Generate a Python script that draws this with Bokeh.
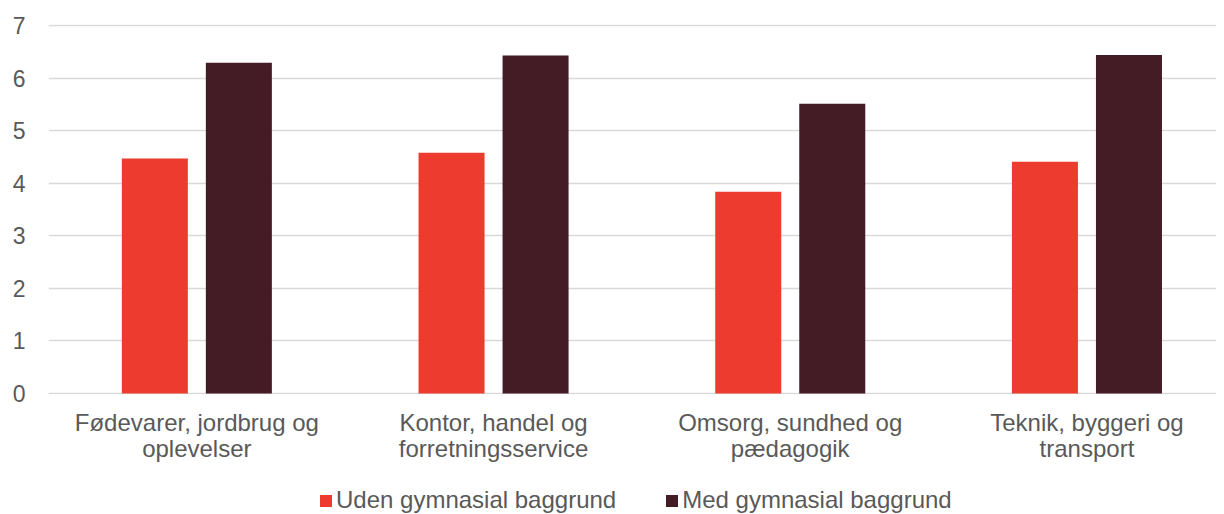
from bokeh.plotting import figure
from bokeh.layouts import column
from bokeh.models import Range1d, FixedTicker, Legend, LegendItem, ColumnDataSource
from bokeh.embed import file_html
from bokeh.resources import INLINE

categories = ["Fødevarer, jordbrug og\noplevelser",
              "Kontor, handel og\nforretningsservice",
              "Omsorg, sundhed og\npædagogik",
              "Teknik, byggeri og\ntransport"]
uden = [4.47, 4.58, 3.84, 4.41]
med = [6.29, 6.43, 5.51, 6.44]
series_names = ["Uden gymnasial baggrund", "Med gymnasial baggrund"]
y_ticks = [0, 1, 2, 3, 4, 5, 6, 7]

RED = "#EE3B2F"
DARK = "#431C26"
TXT = "#595959"
FONT = "Liberation Sans"
W = 1216
LEFT = 48

xs = list(range(len(categories)))
bar_w = 0.2225
off = 0.1416

p = figure(width=W, height=470, output_backend="svg", toolbar_location=None,
           x_range=Range1d(-0.5, -0.5 + (W - LEFT) / 296.7), y_range=Range1d(-0.02, 7.02),
           min_border_left=LEFT, min_border_right=0, min_border_top=24,
           min_border_bottom=76)
p.outline_line_color = None
p.border_fill_color = "white"

src = ColumnDataSource(dict(x1=[x - off for x in xs], x2=[x + off for x in xs],
                            uden=uden, med=med))
p.vbar(x="x1", top="uden", width=bar_w, source=src, fill_color=RED, line_color=None)
p.vbar(x="x2", top="med", width=bar_w, source=src, fill_color=DARK, line_color=None)

p.xgrid.visible = False
p.ygrid.grid_line_color = "#d9d9d9"
p.ygrid.grid_line_width = 1.5
p.ygrid.ticker = FixedTicker(ticks=y_ticks)

p.yaxis.ticker = FixedTicker(ticks=y_ticks)
p.yaxis.axis_line_color = None
p.yaxis.major_tick_line_color = None
p.yaxis.minor_tick_line_color = None
p.yaxis.major_label_standoff = 17
p.yaxis.major_label_text_font_size = "23px"
p.yaxis.major_label_text_color = TXT
p.yaxis.major_label_text_font = FONT

p.xaxis.ticker = FixedTicker(ticks=xs)
p.xaxis.major_label_overrides = {x: c for x, c in zip(xs, categories)}
p.xaxis.axis_line_color = None
p.xaxis.major_tick_line_color = None
p.xaxis.minor_tick_line_color = None
p.xaxis.major_label_standoff = 8
p.xaxis.major_label_text_font_size = "24px"
p.xaxis.major_label_text_line_height = 0.97
p.xaxis.major_label_text_color = TXT
p.xaxis.major_label_text_font = FONT

# legend strip below the chart (its renderers use the same data, kept out of view)
lg = figure(width=W, height=44, output_backend="svg", toolbar_location=None,
            x_axis_type=None, y_axis_type=None, min_border=0,
            x_range=Range1d(100, 101), y_range=Range1d(100, 101))
lg.outline_line_color = None
lg.xgrid.visible = False
lg.ygrid.visible = False
l1 = lg.vbar(x="x1", top="uden", width=bar_w, source=src, fill_color=RED, line_color=None)
l2 = lg.vbar(x="x2", top="med", width=bar_w, source=src, fill_color=DARK, line_color=None)
legend = Legend(items=[LegendItem(label=series_names[0], renderers=[l1]),
                       LegendItem(label=series_names[1], renderers=[l2])],
                orientation="horizontal", location=(318 - LEFT, 0),
                glyph_width=15, glyph_height=15, label_standoff=3, spacing=48,
                padding=0, margin=0, border_line_color=None,
                background_fill_alpha=0,
                label_text_font_size="24px", label_text_color=TXT,
                label_text_font=FONT)
lg.add_layout(legend, "center")

layout = column(p, lg, spacing=0)
open("out.html", "w").write(file_html(layout, INLINE))
